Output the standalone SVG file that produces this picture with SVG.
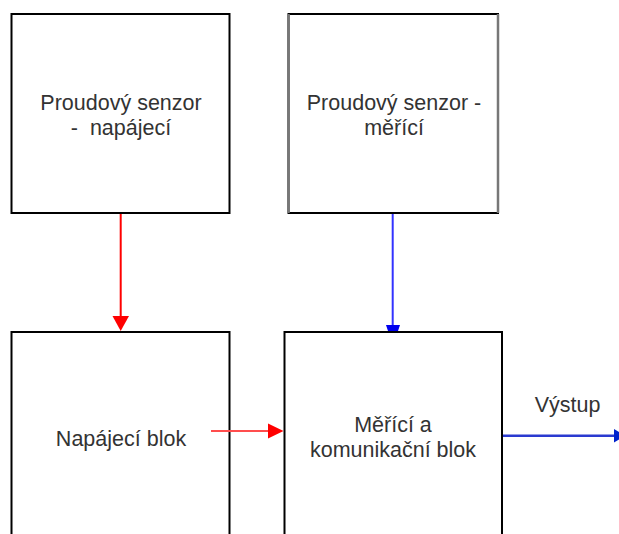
<svg xmlns="http://www.w3.org/2000/svg" width="619" height="534" viewBox="0 0 619 534">
<style>
.box{fill:#fff;stroke:#000;stroke-width:2}
.t{font-family:"Liberation Sans",Arial,sans-serif;font-size:21.5px;fill:#333;text-anchor:middle;white-space:pre}
.red{stroke:#ff0000;stroke-width:2;fill:none}
.blue{stroke:#3333ff;stroke-width:2;fill:none}
</style>
<rect width="619" height="534" fill="#fff"/>
<g id="n1">
<rect class="box" x="11.5" y="14" width="218" height="199"/>
<text class="t" x="121" y="110">Proudový senzor</text>
<text class="t" x="121" y="135" xml:space="preserve">-  napájecí</text>
</g>
<g id="n2">
<rect class="box" x="288.5" y="14" width="209.5" height="199"/>
<line x1="288.5" y1="14" x2="288.5" y2="213" stroke="#777" stroke-width="2.5"/>
<line x1="498" y1="14" x2="498" y2="213" stroke="#777" stroke-width="2.5"/>
<text class="t" x="394" y="110">Proudový senzor -</text>
<text class="t" x="394" y="135">měřící</text>
</g>
<g id="n3">
<rect class="box" x="11.5" y="332" width="218" height="220"/>
<text class="t" x="121" y="446">Napájecí blok</text>
</g>
<g id="n4">
<rect class="box" x="284.5" y="332" width="217.5" height="220"/>
<text class="t" x="393" y="432">Měřící a</text>
<text class="t" x="393" y="457">komunikační blok</text>
</g>
<g id="connectors">
<line class="red" x1="120.7" y1="214" x2="120.7" y2="318"/>
<polygon points="112.5,316 129,316 120.7,331" fill="#ff0000"/>
<line class="blue" x1="392.7" y1="214" x2="392.7" y2="326"/>
<polygon points="386,325 400,325 398,331 388,331" fill="#0000ee"/>
<line stroke="#ff4d4d" stroke-width="2" x1="211" y1="431" x2="270" y2="431"/>
<polygon points="268,423.5 283.5,431 268,438.5" fill="#ff0000"/>
<line stroke="#2a3ad0" stroke-width="2.5" x1="503" y1="435.7" x2="614" y2="435.7"/>
<polygon points="614,429 625,435.7 614,442.5" fill="#0022cc"/>
<text class="t" x="567.5" y="412">Výstup</text>
</g>
</svg>
